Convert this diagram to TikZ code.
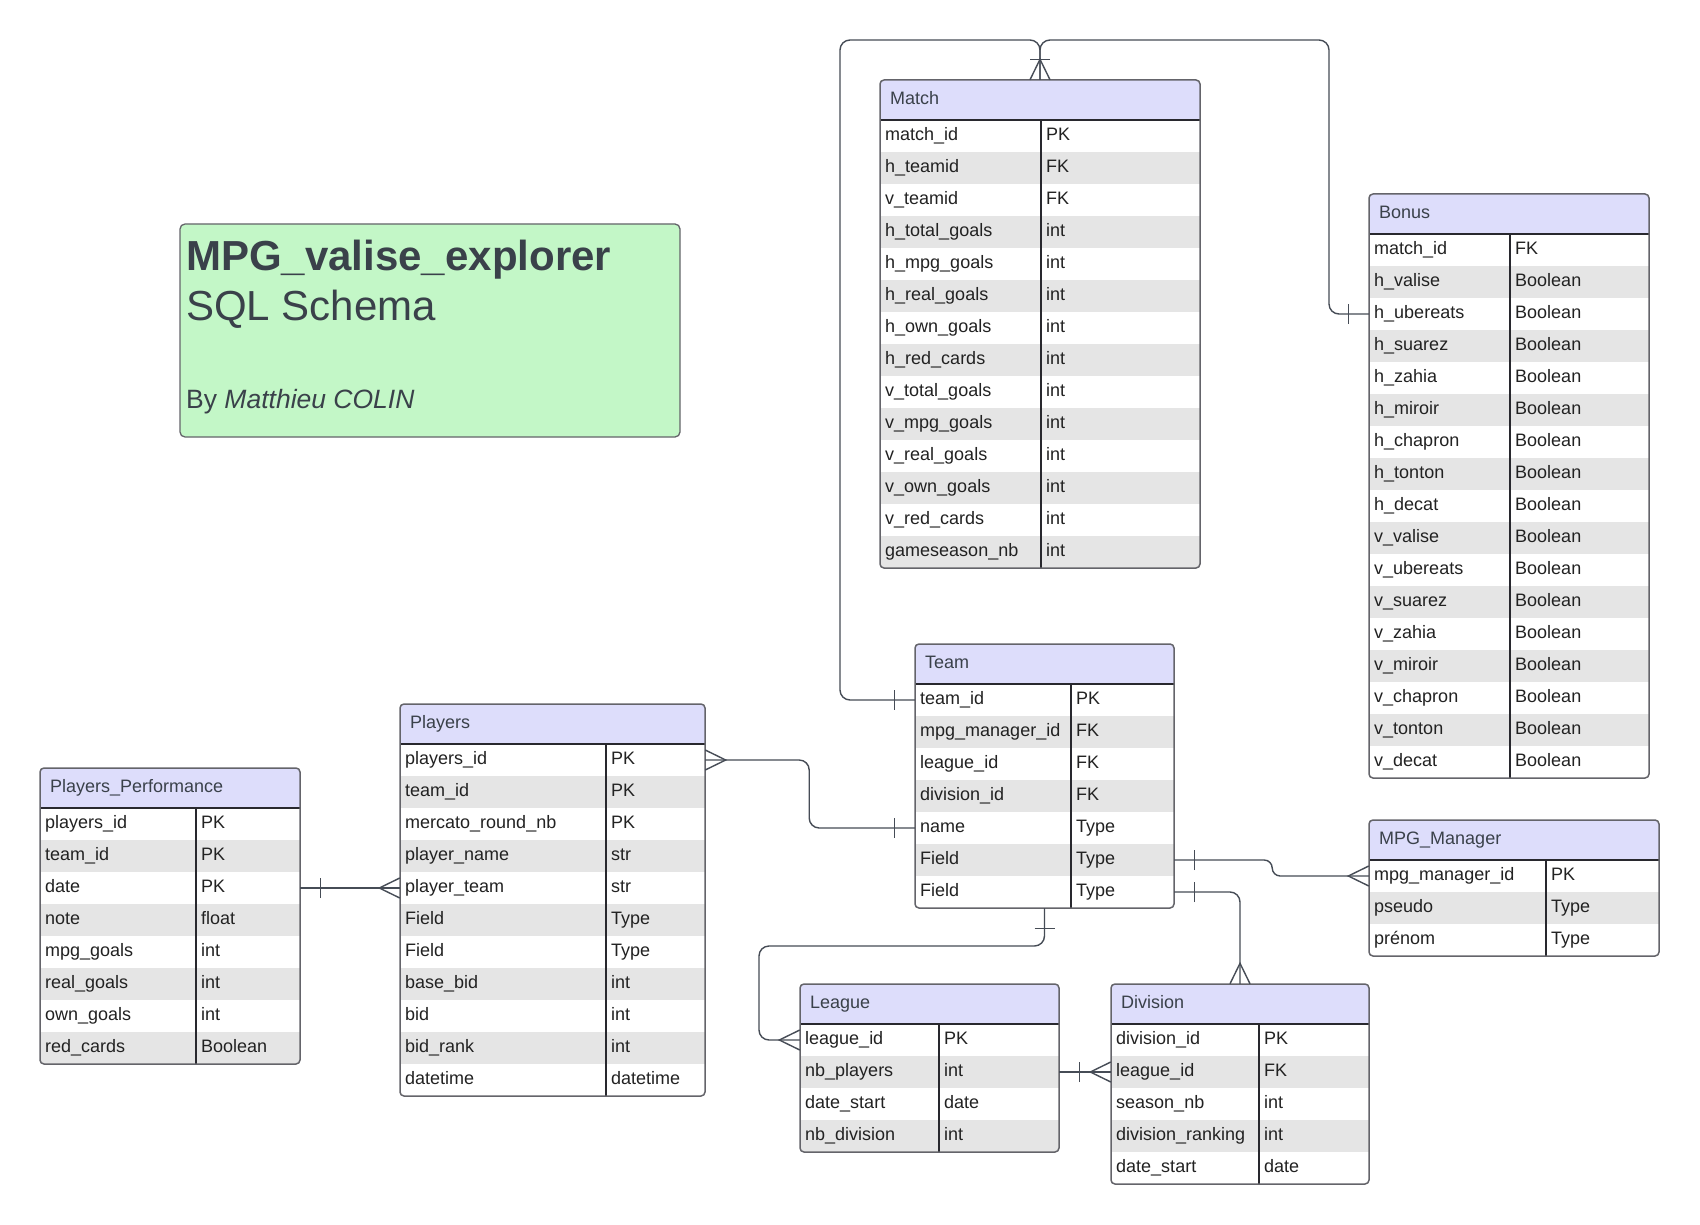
\documentclass[tikz,border=0pt]{standalone}
\usepackage{fontspec}
\setmainfont{Liberation Sans}
\usetikzlibrary{calc}
\definecolor{hdr}{RGB}{221,221,251}
\definecolor{rowg}{RGB}{229,229,229}
\definecolor{boxline}{RGB}{100,100,106}
\definecolor{divline}{RGB}{40,40,46}
\definecolor{conncol}{RGB}{70,76,86}
\definecolor{titlefill}{RGB}{195,247,199}
\definecolor{titletext}{RGB}{58,65,74}
\definecolor{celltxt}{RGB}{34,34,34}
\tikzset{
  conn/.style={draw=conncol, line width=1.4},
  celltext/.style={inner sep=0, text=celltxt, font=\fontsize{18}{20}\selectfont, text height=12.6pt, text depth=4pt},
  hdrtext/.style={inner sep=0, text=titletext, font=\fontsize{18}{20}\selectfont, text height=12.6pt, text depth=4pt},
}
\newcommand\ertable[8]{%
  \pgfmathsetmacro\tbh{40+32*#6}%
  \pgfmathsetmacro\tbr{#2+#4}%
  \pgfmathsetmacro\tbb{#3+\tbh}%
  \pgfmathsetmacro\tbd{#2+#5}%
  \fill[white, rounded corners=4] (#2,#3) rectangle (\tbr,\tbb);
  \begin{scope}
    \clip[rounded corners=4] (#2,#3) rectangle (\tbr,\tbb);
    \fill[hdr] (#2,#3) rectangle (\tbr,#3+40);
    \foreach \a/\b [count=\i from 0] in {#8} {
      \ifodd\i \fill[rowg] (#2,#3+40+32*\i) rectangle (\tbr,#3+72+32*\i);\fi
    }
  \end{scope}
  \node[inner sep=0, minimum width=#4pt, minimum height=\tbh pt] (#1) at ({#2+#4/2},{#3+\tbh/2}) {};
  \node[hdrtext, anchor=west] (#1-h) at (#2+10,#3+20) {#7};
  \foreach \a/\b [count=\i from 0] in {#8} {
    \node[inner sep=0, minimum width=#4pt, minimum height=32pt] (#1-\i) at ({#2+#4/2},{#3+56+32*\i}) {};
    \node[celltext, anchor=west] (#1-\i-a) at (#2+5,#3+56+32*\i) {\a};
    \node[celltext, anchor=west] (#1-\i-b) at (\tbd+5,#3+56+32*\i) {\b};
  }
  \draw[divline, line width=1.3] (\tbd,#3+40) -- (\tbd,\tbb);
  \draw[divline, line width=1.3] (#2,#3+40) -- (\tbr,#3+40);
  \draw[boxline, line width=1.5, rounded corners=4] (#2,#3) rectangle (\tbr,\tbb);
}
\newcommand\crowsym[2]{\begin{scope}[shift={(#1)}, rotate=#2]\draw[conn] (0,10) -- (20.5,0) -- (0,-10);\end{scope}}
\newcommand\barsym[2]{\begin{scope}[shift={(#1)}, rotate=#2]\draw[conn] (20.5,10) -- (20.5,-10);\end{scope}}
\begin{document}
\begin{tikzpicture}[x=1pt,y=-1pt]
\useasboundingbox[fill=white] (0,0) rectangle (1700,1225);
% title box
\draw[fill=titlefill, draw=boxline, line width=1.3, rounded corners=5] (180,224) rectangle (680,437);
\node[inner sep=0, minimum width=500pt, minimum height=213pt] (titlebox) at (430,330.5) {};
\node[inner sep=0, anchor=base west, text=titletext, font=\fontsize{42}{45}\selectfont\bfseries] (title) at (186,270) {MPG\_valise\_explorer};
\node[inner sep=0, anchor=base west, text=titletext, font=\fontsize{42}{45}\selectfont] (subtitle) at (186,320) {SQL Schema};
\node[inner sep=0, anchor=base west, text=titletext, font=\fontsize{26.5}{30}\selectfont] (author) at (186,408) {By \textit{Matthieu COLIN}};

\ertable{match}{880}{80}{320}{161}{14}{Match}{match\_id/PK, h\_teamid/FK, v\_teamid/FK, h\_total\_goals/int, h\_mpg\_goals/int, h\_real\_goals/int, h\_own\_goals/int, h\_red\_cards/int, v\_total\_goals/int, v\_mpg\_goals/int, v\_real\_goals/int, v\_own\_goals/int, v\_red\_cards/int, gameseason\_nb/int}
\ertable{bonus}{1369}{194}{280}{141}{17}{Bonus}{match\_id/FK, h\_valise/Boolean, h\_ubereats/Boolean, h\_suarez/Boolean, h\_zahia/Boolean, h\_miroir/Boolean, h\_chapron/Boolean, h\_tonton/Boolean, h\_decat/Boolean, v\_valise/Boolean, v\_ubereats/Boolean, v\_suarez/Boolean, v\_zahia/Boolean, v\_miroir/Boolean, v\_chapron/Boolean, v\_tonton/Boolean, v\_decat/Boolean}
\ertable{team}{915}{644}{259}{156}{7}{Team}{team\_id/PK, mpg\_manager\_id/FK, league\_id/FK, division\_id/FK, name/Type, Field/Type, Field/Type}
\ertable{players}{400}{704}{305}{206}{11}{Players}{players\_id/PK, team\_id/PK, mercato\_round\_nb/PK, player\_name/str, player\_team/str, Field/Type, Field/Type, base\_bid/int, bid/int, bid\_rank/int, datetime/datetime}
\ertable{pp}{40}{768}{260}{156}{8}{Players\_Performance}{players\_id/PK, team\_id/PK, date/PK, note/float, mpg\_goals/int, real\_goals/int, own\_goals/int, red\_cards/Boolean}
\ertable{mpg}{1369}{820}{290}{177}{3}{MPG\_Manager}{mpg\_manager\_id/PK, pseudo/Type, prénom/Type}
\ertable{league}{800}{984}{259}{139}{4}{League}{league\_id/PK, nb\_players/int, date\_start/date, nb\_division/int}
\ertable{division}{1111}{984}{258}{148}{5}{Division}{division\_id/PK, league\_id/FK, season\_nb/int, division\_ranking/int, date\_start/date}

% connectors
\draw[conn, rounded corners=10] (team-0.west) -| (840,40) -| (match.north);
\draw[conn, rounded corners=10] (bonus-2.west) -| (1329,40) -| (match.north);
\crowsym{match.north}{90}\barsym{match.north}{90}
\barsym{team-0.west}{180}
\barsym{bonus-2.west}{180}

\draw[conn, rounded corners=10] (players-0.east) -- ++(104,0) |- (team-4.west);
\crowsym{players-0.east}{0}\barsym{team-4.west}{180}

\draw[conn] (players-4.west -| pp.east) -- (players-4.west);
\barsym{players-4.west -| pp.east}{0}\crowsym{players-4.west}{180}

\draw[conn, rounded corners=8] (team-5.east) -- ++(98,0) |- (mpg-0.west);
\barsym{team-5.east}{0}\crowsym{mpg-0.west}{180}

\draw[conn, rounded corners=10] (team-6.east) -| (division.north);
\barsym{team-6.east}{0}\crowsym{division.north}{90}

\draw[conn, rounded corners=10] (team.south) |- (759,946) |- (league-0.west);
\barsym{team.south}{-90}\crowsym{league-0.west}{180}

\draw[conn] (league-1.east) -- (division-1.west);
\barsym{league-1.east}{0}\crowsym{division-1.west}{180}
\end{tikzpicture}
\end{document}
